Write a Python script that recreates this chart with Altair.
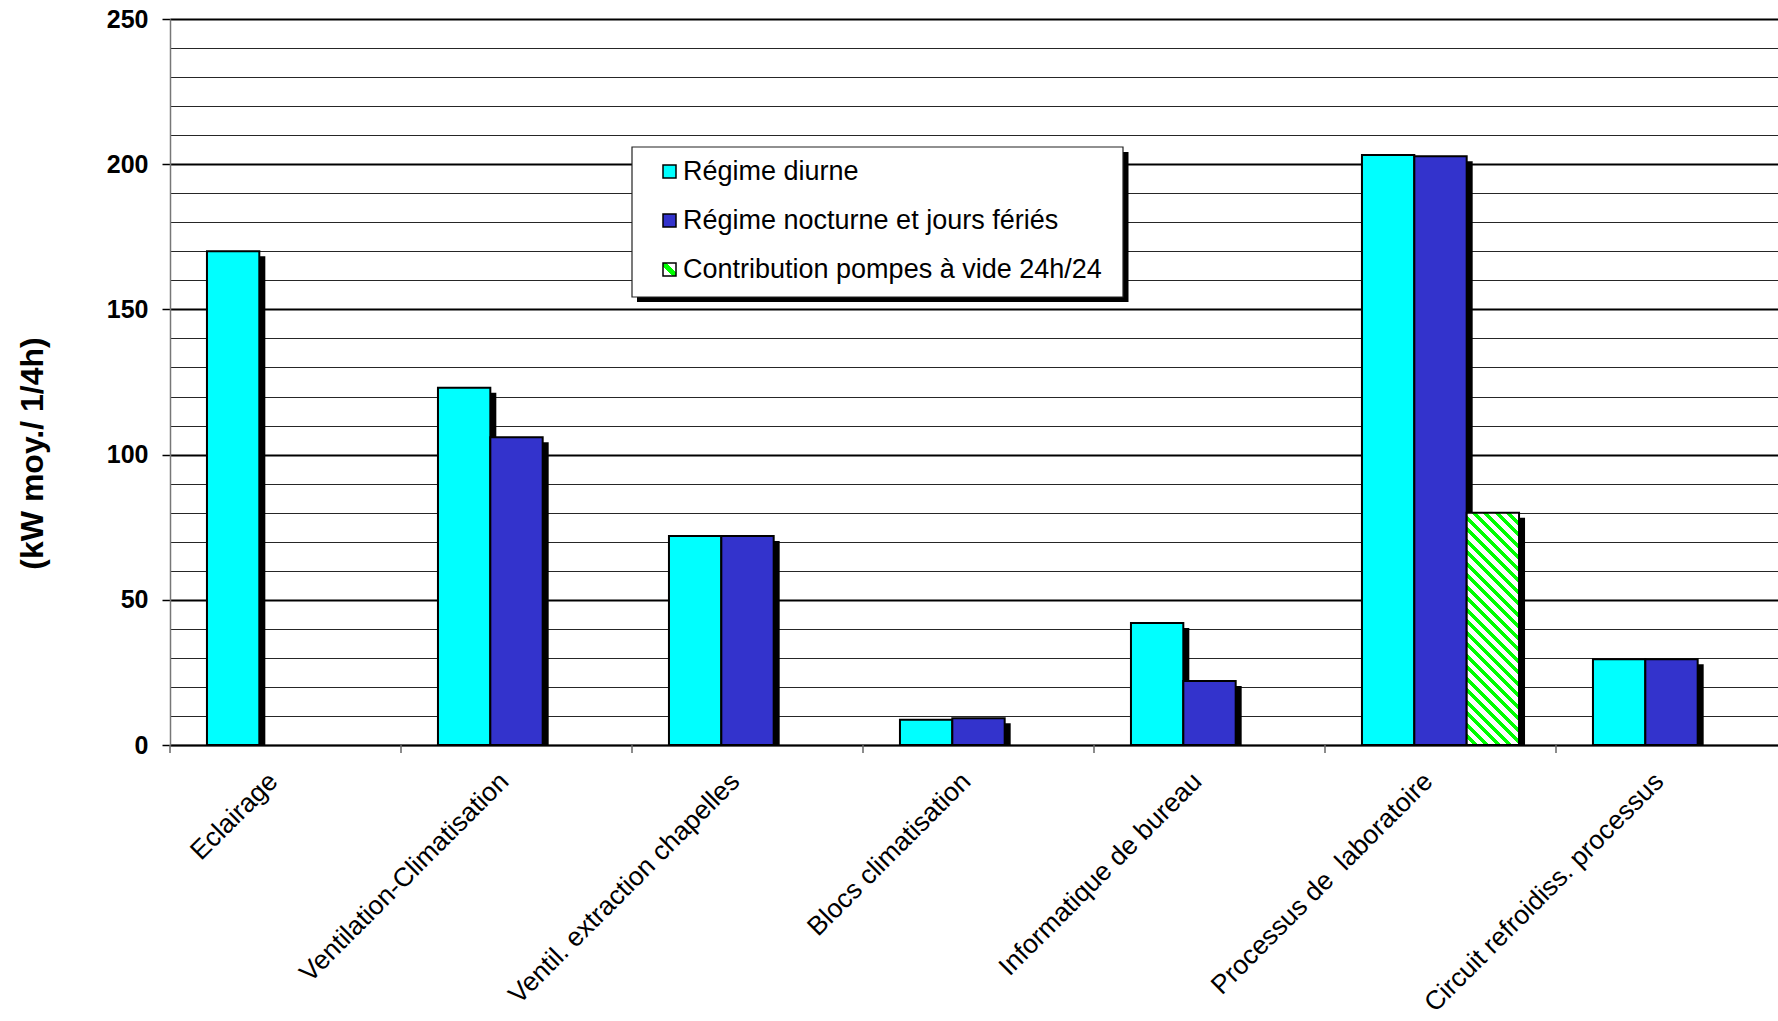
import altair as alt
import pandas as pd

# ---- data -----------------------------------------------------------------
categories = [
    "Eclairage",
    "Ventilation-Climatisation",
    "Ventil. extraction chapelles",
    "Blocs climatisation",
    "Informatique de bureau",
    "Processus de\u00a0 laboratoire",
    "Circuit refroidiss. processus",
]
series_names = [
    "Régime diurne",
    "Régime nocturne et jours fériés",
    "Contribution pompes à vide 24h/24",
]
diurne = [170, 123, 72, 8.7, 42, 203.2, 29.5]
nocturne = [None, 106, 72, 9.2, 22, 202.7, 29.5]
pompes = [None, None, None, None, None, 80, None]
y_ticks = list(range(0, 251, 10))

series_values = [diurne, nocturne, pompes]

# ---- layout constants -------------------------------------------------------
PLOT_W = 1608            # visible plot width (the page edge cuts the last band)
BAND_RANGE = 1617        # full extent of the category axis
PLOT_H = 726
Y_MAX = 250
STEP = BAND_RANGE / len(categories)
PAD_INNER = 0.32
BAR_W = STEP * (1 - PAD_INNER) / 3
FONT = "Liberation Sans"

CYAN = "#00FFFF"
BLUE = "#3333CC"
GREEN = "#00FF00"


def hatch_gradient(w, h, period=11.5, duty=0.45):
    """Linear gradient giving 45-degree diagonal stripes on a w x h rectangle."""
    span = w + h
    c = span / (w * w + h * h)
    stops = []
    pos = 0.0
    while pos < span:
        a = pos / span
        b = min((pos + period * (1 - duty)) / span, 1.0)
        e = min((pos + period) / span, 1.0)
        stops += [
            alt.GradientStop(offset=a, color="white"),
            alt.GradientStop(offset=b, color="white"),
            alt.GradientStop(offset=b, color=GREEN),
            alt.GradientStop(offset=e, color=GREEN),
        ]
        pos += period
    return alt.LinearGradient(
        gradient="linear", x1=0, y1=1, x2=c * w, y2=1 - c * h, stops=stops
    )


# single diagonal stripe used for the legend swatch
legend_hatch = {
    "expr": (
        "{gradient: 'linear', x1: 0, y1: 1, x2: 1, y2: 0, stops: ["
        "{offset: 0, color: 'white'}, {offset: 0.36, color: 'white'}, "
        f"{{offset: 0.36, color: '{GREEN}'}}, {{offset: 0.64, color: '{GREEN}'}}, "
        "{offset: 0.64, color: 'white'}, {offset: 1, color: 'white'}]}"
    )
}

rows = []
for name, vals in zip(series_names, series_values):
    for cat, v in zip(categories, vals):
        if v is not None:
            rows.append({"categorie": cat, "serie": name, "valeur": v})
df = pd.DataFrame(rows)

# ---- scales / axes ----------------------------------------------------------
x_scale = alt.Scale(
    domain=categories,
    range=[0, BAND_RANGE],
    paddingInner=PAD_INNER,
    paddingOuter=PAD_INNER / 2,
)
y_scale = alt.Scale(domain=[0, Y_MAX], nice=False, zero=True)

x_axis = alt.Axis(
    title=None,
    ticks=False,
    domainColor="black",
    domainWidth=1.5,
    labelAngle=-45,
    labelAlign="right",
    labelBaseline="middle",
    labelPadding=32,
    labelOffset=-12,
    labelFont=FONT,
    labelFontSize=26.5,
    labelColor="black",
    labelLimit=1000,
    labelOverlap=False,
)

is_major = "datum.value % 50 === 0"
y_axis = alt.Axis(
    values=y_ticks,
    title="(kW moy./ 1/4h)",
    titleFont=FONT,
    titleFontSize=32,
    titleFontWeight="bold",
    titleColor="black",
    titleAngle=270,
    titleAlign="center",
    titleBaseline="middle",
    titleX=-138,
    titleY=434,
    labelExpr=f"{is_major} ? datum.label : ''",
    labelFont=FONT,
    labelFontSize=25,
    labelFontWeight="bold",
    labelColor="black",
    labelPadding=14,
    tickSize=8,
    tickColor="black",
    tickWidth=1.5,
    tickOpacity={"condition": {"test": is_major, "value": 1}, "value": 0},
    domainColor="#777777",
    domainWidth=1.5,
    grid=True,
    gridColor="black",
    gridWidth={"condition": {"test": is_major, "value": 2}, "value": 1},
    gridOpacity={"condition": {"test": is_major, "value": 1}, "value": 0.85},
)

fill_scale = alt.Scale(domain=series_names, range=[CYAN, BLUE, legend_hatch])
legend = alt.Legend(
    title=None,
    orient="none",
    legendX=486,
    legendY=139,
    padding=0,
    symbolType="square",
    symbolSize=169,
    symbolStrokeColor="black",
    symbolStrokeWidth=1.5,
    symbolOpacity=1,
    labelFont=FONT,
    labelFontSize=27,
    labelColor="black",
    labelOffset=0,
    labelLimit=1000,
    rowPadding=21,
)

X = alt.X("categorie:N", sort=categories, scale=x_scale, axis=x_axis)
Y = alt.Y("valeur:Q", scale=y_scale, axis=y_axis)

# ---- legend frame with its drop shadow --------------------------------------
one = pd.DataFrame({"k": [0]})
legend_shadow = alt.Chart(one).mark_rect(color="black").encode(
    x=alt.value(467), x2=alt.value(958.5), y=alt.value(133), y2=alt.value(283)
)
legend_box = alt.Chart(one).mark_rect(fill="white", stroke="#222222", strokeWidth=1.2).encode(
    x=alt.value(462), x2=alt.value(953), y=alt.value(128), y2=alt.value(278)
)

# ---- bars (one layer per series, each preceded by its shadow) ---------------
layers = [legend_shadow, legend_box]
for k, name in enumerate(series_names):
    sub = df[df["serie"] == name]
    slot = (k - 1) * BAR_W
    base = alt.Chart(sub)
    # the shadow is shifted right and down; clipping trims it at the baseline
    shadow = base.mark_bar(
        fill="black",
        clip=True,
        width=alt.RelativeBandSize(band=1 / 3),
        xOffset=slot + 6,
        x2Offset=slot + 6,
        yOffset=5,
    ).encode(x=X, y=Y)
    if k < 2:
        bar = base.mark_bar(
            stroke="black",
            strokeWidth=2,
            width=alt.RelativeBandSize(band=1 / 3),
            xOffset=slot,
            x2Offset=slot,
        ).encode(
            x=X,
            y=Y,
            fill=alt.Fill("serie:N", scale=fill_scale, legend=legend),
        )
    else:
        bar_h = float(sub["valeur"].max()) * PLOT_H / Y_MAX
        bar = base.mark_bar(
            stroke="black",
            strokeWidth=2,
            width=alt.RelativeBandSize(band=1 / 3),
            xOffset=slot,
            x2Offset=slot,
            fill=hatch_gradient(BAR_W, bar_h),
        ).encode(x=X, y=Y)
    layers += [shadow, bar]

# category separators under the x axis
separators = alt.Chart(pd.DataFrame({"categorie": categories})).mark_rule(
    color="#666666", strokeWidth=1.5, xOffset=-STEP / 2
).encode(x=X, y=alt.value(PLOT_H), y2=alt.value(PLOT_H + 8))
layers.append(separators)

chart = (
    alt.layer(*layers)
    .properties(
        width=PLOT_W,
        height=PLOT_H,
        autosize=alt.AutoSizeParams(type="none"),
        padding={"left": 170, "top": 19, "right": 0, "bottom": 276},
        background="white",
    )
    .configure_view(stroke=None)
    .configure(font=FONT)
)

chart.save("out.html", embed_options={"renderer": "svg", "actions": False})
